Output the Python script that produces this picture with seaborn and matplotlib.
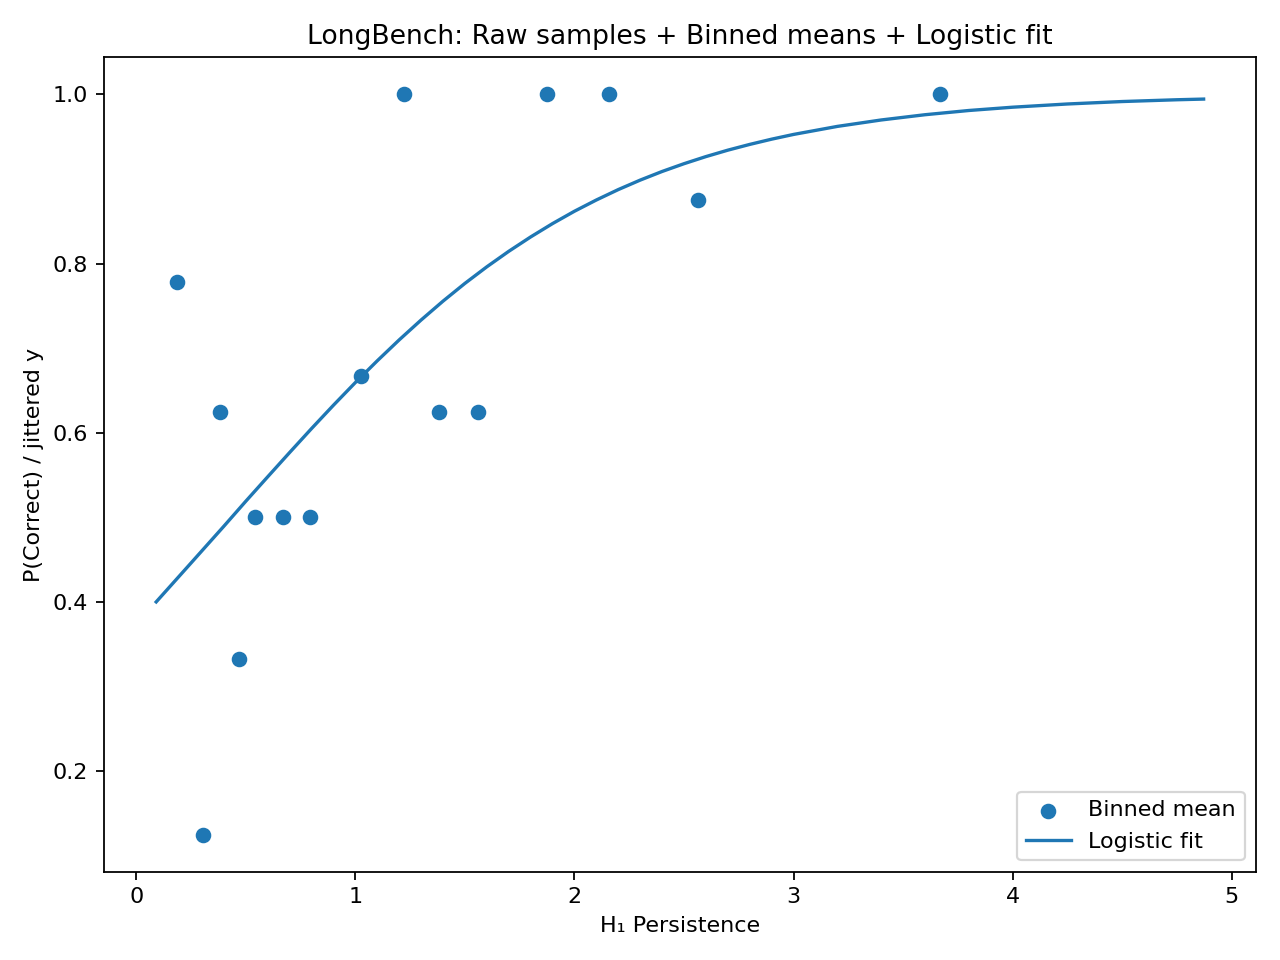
import matplotlib
matplotlib.use('Agg')
import pandas as pd
import seaborn as sns
from matplotlib import pyplot as plt

# binned means
bin_x = [0.187, 0.306, 0.384, 0.470, 0.543, 0.671, 0.795, 1.027, 1.224,
         1.384, 1.562, 1.877, 2.160, 2.562, 3.667]
bin_y = [0.778, 0.125, 0.625, 0.333, 0.5, 0.5, 0.5, 0.667, 1.0,
         0.625, 0.625, 1.0, 1.0, 0.875, 1.0]

# logistic fit curve
fit_x = [0.091, 0.25, 0.4, 0.5, 0.6, 0.7, 0.8, 0.9,
         1.0, 1.1, 1.2, 1.3, 1.4, 1.5, 1.6, 1.7, 1.8, 1.9,
         2.0, 2.1, 2.2, 2.3, 2.4, 2.5, 2.6, 2.7, 2.8, 2.9,
         3.0, 3.2, 3.4, 3.6, 3.8, 4.0, 4.25, 4.5, 4.75, 4.872]
fit_y = [0.400, 0.446, 0.4895, 0.519, 0.5479, 0.5766, 0.6049, 0.6325,
         0.6593, 0.6850, 0.7097, 0.7332, 0.7555, 0.7765, 0.7961, 0.8144, 0.8314, 0.8472,
         0.8618, 0.8751, 0.8874, 0.8986, 0.9088, 0.9180, 0.9264, 0.9340, 0.9408, 0.9470,
         0.9526, 0.9621, 0.9697, 0.9759, 0.9809, 0.9848, 0.9886, 0.9915, 0.9936, 0.9944]

bins = pd.DataFrame({'x': bin_x, 'y': bin_y})
fit = pd.DataFrame({'x': fit_x, 'y': fit_y})

fig, ax = plt.subplots(figsize=(8, 6), dpi=160)
sns.scatterplot(data=bins, x='x', y='y', ax=ax, color='#1f77b4', s=36,
                edgecolor='#1f77b4', linewidth=1.0, label='Binned mean')
sns.lineplot(data=fit, x='x', y='y', ax=ax, color='#1f77b4', linewidth=1.5,
             label='Logistic fit')

ax.set_title('LongBench: Raw samples + Binned means + Logistic fit')
ax.set_xlabel('H\u2081 Persistence')
ax.set_ylabel('P(Correct) / jittered y')
ax.legend(loc='lower right')
plt.tight_layout()
plt.savefig('out.png')
